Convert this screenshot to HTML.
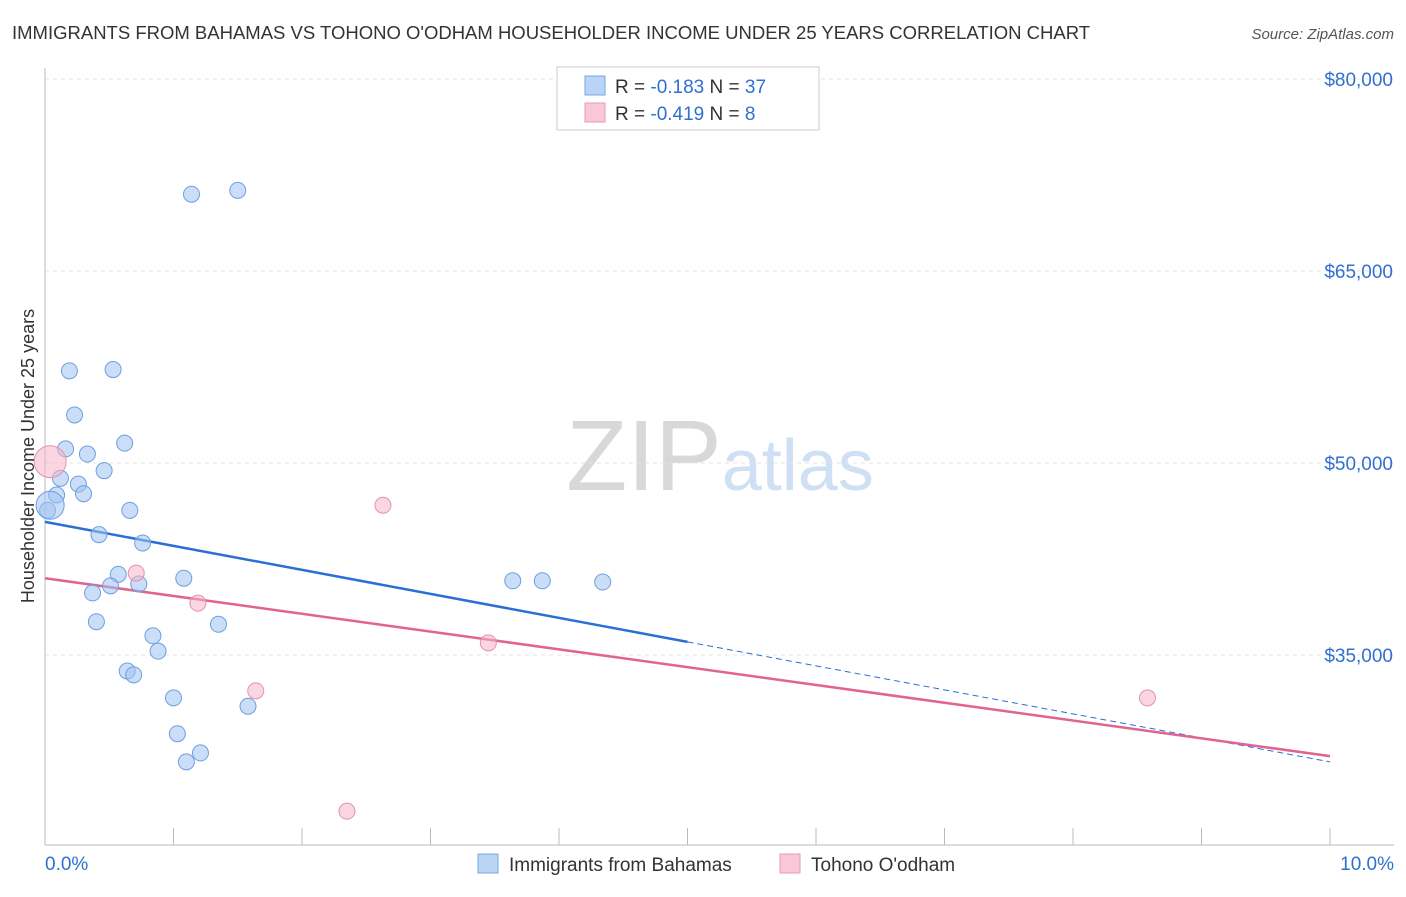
<!DOCTYPE html>
<html><head><meta charset="utf-8"><style>
body{margin:0;background:#fff;font-family:"Liberation Sans",sans-serif;}
svg text{font-family:"Liberation Sans",sans-serif;}
</style></head><body>
<svg id="chart" width="1406" height="892">
<text x="12" y="39" font-size="18.5" fill="#333">IMMIGRANTS FROM BAHAMAS VS TOHONO O'ODHAM HOUSEHOLDER INCOME UNDER 25 YEARS CORRELATION CHART</text>
<text x="1394" y="39" font-size="15" fill="#555" text-anchor="end" font-style="italic">Source: ZipAtlas.com</text>
<text x="720" y="490" font-size="100" fill="#ddd" text-anchor="middle" font-family="Liberation Serif"><tspan fill="#d8d8d8">ZIP</tspan><tspan fill="#cfe0f5" font-family="Liberation Sans" font-size="72">atlas</tspan></text>
<g id="grid"></g><g id="axes"></g><g id="lines"></g><g id="points"></g>
<text transform="translate(34,456) rotate(-90)" font-size="18" fill="#333" text-anchor="middle">Householder Income Under 25 years</text>
<g>
<rect x="557" y="67" width="262" height="63" fill="#fff" stroke="#ccc"/>
<rect x="585" y="76" width="20" height="19" fill="#b9d4f5" stroke="#7aa7e0"/>
<rect x="585" y="103" width="20" height="19" fill="#f8c8d7" stroke="#e79ab3"/>
<text x="615" y="93" font-size="19" fill="#333">R = <tspan fill="#3070d0">-0.183</tspan>   N = <tspan fill="#3070d0">37</tspan></text>
<text x="615" y="120" font-size="19" fill="#333">R = <tspan fill="#3070d0">-0.419</tspan>   N =   <tspan fill="#3070d0">8</tspan></text>
</g>
<g>
<rect x="478" y="854" width="20" height="19" fill="#b9d4f5" stroke="#7aa7e0"/>
<text x="509" y="871" font-size="19" fill="#333">Immigrants from Bahamas</text>
<rect x="780" y="854" width="20" height="19" fill="#f8c8d7" stroke="#e79ab3"/>
<text x="811" y="871" font-size="19" fill="#333">Tohono O'odham</text>
</g>
</svg>
<script>
const yTicks=[35000,50000,65000,80000];
const yTickLabels=["$35,000","$50,000","$65,000","$80,000"];
const blueX=[1.14,1.50,0.19,0.53,0.23,0.62,0.16,0.33,0.46,0.12,0.26,0.09,0.30,0.02,0.66,0.42,0.76,0.57,1.08,0.51,0.73,0.37,0.40,1.35,0.84,0.88,0.64,0.69,1.00,1.58,1.03,1.21,1.10,3.64,3.87,4.34,0.04];
const blueY=[71000,71300,57200,57300,53750,51550,51100,50700,49400,48800,48350,47500,47600,46300,46300,44400,43750,41300,41000,40400,40550,39850,37600,37400,36500,35300,33750,33450,31650,31000,28850,27350,26650,40800,40800,40700,46700];
const pinkX=[0.04,0.71,1.19,2.63,3.45,1.64,2.35,8.58];
const pinkY=[50100,41400,39050,46700,35950,32200,22800,31650];
const blueTrend=[45400,26650]; // at x=0 and x=10
const pinkTrend=[41000,27100];
const X=v=>45+v*128.5, Y=v=>463-(v-50000)*0.0128;
const NS="http://www.w3.org/2000/svg";
function mk(p,t,a){const e=document.createElementNS(NS,t);for(const k in a)e.setAttribute(k,a[k]);document.getElementById(p).appendChild(e);return e;}
yTicks.forEach((t,i)=>{
 const g=mk('grid','line',{x1:45,x2:1394,y1:Y(t),y2:Y(t),stroke:'#e3e3e3','stroke-dasharray':'4,4'});
 
 
 const l=mk('grid','text',{x:1393,y:Y(t)+7,'font-size':19,fill:'#3070d0','text-anchor':'end'});l.textContent=yTickLabels[i];
 
 
});
mk('axes','line',{x1:45,x2:45,y1:68,y2:845,stroke:'#bbb'});
mk('axes','line',{x1:45,x2:1394,y1:845,y2:845,stroke:'#bbb'});
for(let i=1;i<=10;i++){mk('axes','line',{x1:X(i),x2:X(i),y1:828,y2:845,stroke:'#bbb'});}
const a0=mk('axes','text',{x:45,y:870,'font-size':19,fill:'#3070d0'});a0.textContent='0.0%';


const a1=mk('axes','text',{x:1394,y:870,'font-size':19,fill:'#3070d0','text-anchor':'end'});a1.textContent='10.0%';


const bm=blueTrend[0]+(blueTrend[1]-blueTrend[0])*0.5;
let l1=mk('lines','line',{x1:X(0),y1:Y(blueTrend[0]),x2:X(5),y2:Y(bm),stroke:'#2a6fd6','stroke-width':2.5});


let l2=mk('lines','line',{x1:X(5),y1:Y(bm),x2:X(10),y2:Y(blueTrend[1]),stroke:'#2a6fd6','stroke-width':1,'stroke-dasharray':'6,4'});


let l3=mk('lines','line',{x1:X(0),y1:Y(pinkTrend[0]),x2:X(10),y2:Y(pinkTrend[1]),stroke:'#e0648e','stroke-width':2.5});


blueX.forEach((x,i)=>{const c=mk('points','circle',{cx:X(x),cy:Y(blueY[i]),r:i==blueX.length-1?14:8,fill:'rgba(160,195,240,0.55)',stroke:'#6c9fe0','stroke-width':1});
 
 });
pinkX.forEach((x,i)=>{const c=mk('points','circle',{cx:X(x),cy:Y(pinkY[i]),r:i==0?16:8,fill:'rgba(245,180,200,0.55)',stroke:'#e590ad','stroke-width':1});
 
 });
</script>
</body></html>
